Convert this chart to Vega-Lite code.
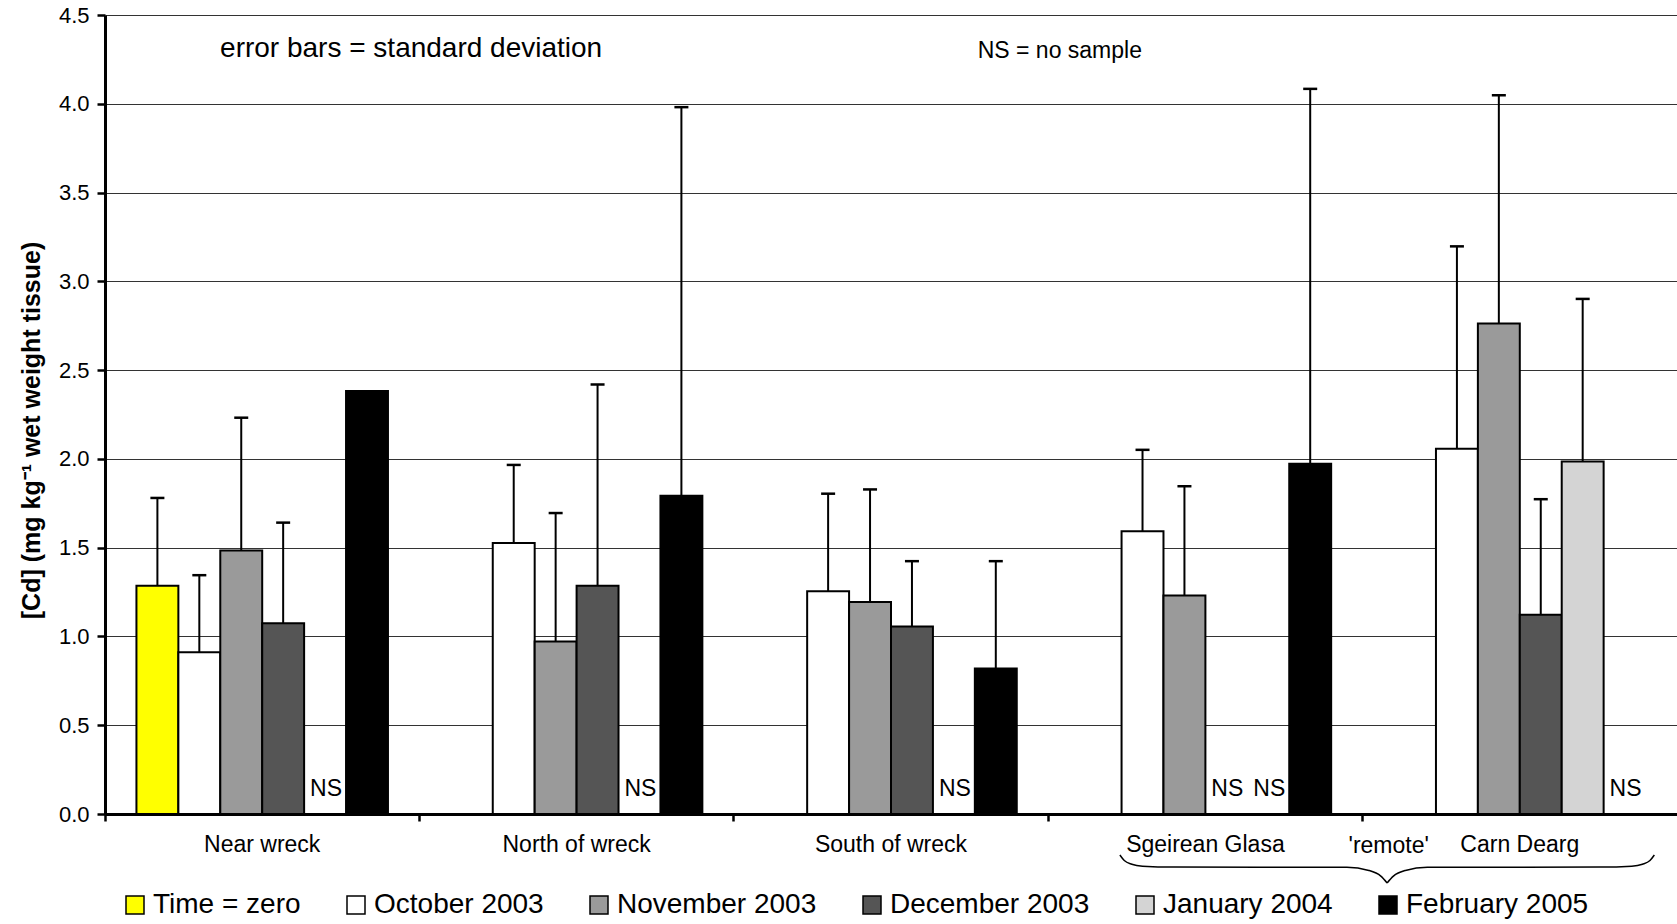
{
  "$schema": "https://vega.github.io/schema/vega-lite/v6.json",
  "width": 1572,
  "height": 799,
  "autosize": {"type": "none"},
  "padding": {"left": 105, "top": 15, "right": 0, "bottom": 110},
  "background": "white",
  "config": {"view": {"stroke": null}, "font": "Liberation Sans"},
  "resolve": {"scale": {"x": "independent"}, "axis": {"x": "independent", "y": "independent"}},
  "layer": [
    {
      "data": {"values": [
        {"site": "Near wreck", "period": "Time = zero", "value": 1.285, "upper": 1.78},
        {"site": "Near wreck", "period": "October 2003", "value": 0.911, "upper": 1.345},
        {"site": "Near wreck", "period": "November 2003", "value": 1.484, "upper": 2.232},
        {"site": "Near wreck", "period": "December 2003", "value": 1.074, "upper": 1.641},
        {"site": "Near wreck", "period": "January 2004", "value": null, "upper": null, "ns": true},
        {"site": "Near wreck", "period": "February 2005", "value": 2.383, "upper": null},
        {"site": "North of wreck", "period": "October 2003", "value": 1.526, "upper": 1.966},
        {"site": "North of wreck", "period": "November 2003", "value": 0.971, "upper": 1.695},
        {"site": "North of wreck", "period": "December 2003", "value": 1.285, "upper": 2.419},
        {"site": "North of wreck", "period": "January 2004", "value": null, "upper": null, "ns": true},
        {"site": "North of wreck", "period": "February 2005", "value": 1.792, "upper": 3.981},
        {"site": "South of wreck", "period": "October 2003", "value": 1.255, "upper": 1.804},
        {"site": "South of wreck", "period": "November 2003", "value": 1.194, "upper": 1.828},
        {"site": "South of wreck", "period": "December 2003", "value": 1.056, "upper": 1.424},
        {"site": "South of wreck", "period": "January 2004", "value": null, "upper": null, "ns": true},
        {"site": "South of wreck", "period": "February 2005", "value": 0.82, "upper": 1.424},
        {"site": "Sgeirean Glasa", "period": "October 2003", "value": 1.592, "upper": 2.051},
        {"site": "Sgeirean Glasa", "period": "November 2003", "value": 1.231, "upper": 1.846},
        {"site": "Sgeirean Glasa", "period": "December 2003", "value": null, "upper": null, "ns": true},
        {"site": "Sgeirean Glasa", "period": "January 2004", "value": null, "upper": null, "ns": true},
        {"site": "Sgeirean Glasa", "period": "February 2005", "value": 1.972, "upper": 4.084},
        {"site": "Carn Dearg", "period": "October 2003", "value": 2.057, "upper": 3.197},
        {"site": "Carn Dearg", "period": "November 2003", "value": 2.763, "upper": 4.048},
        {"site": "Carn Dearg", "period": "December 2003", "value": 1.122, "upper": 1.773},
        {"site": "Carn Dearg", "period": "January 2004", "value": 1.985, "upper": 2.901},
        {"site": "Carn Dearg", "period": "February 2005", "value": null, "upper": null, "ns": true}
      ]},
      "encoding": {
        "x": {
          "field": "site", "type": "nominal",
          "scale": {"domain": ["Near wreck", "North of wreck", "South of wreck", "Sgeirean Glasa", "Carn Dearg"], "paddingInner": 0, "paddingOuter": 0},
          "axis": {"title": null, "bandPosition": 0, "labelAngle": 0, "domainColor": "black", "domainWidth": 3, "tickColor": "black", "tickWidth": 2.5, "tickSize": 7, "labelFontSize": 23, "labelColor": "black", "labelPadding": 12, "labelFont": "Liberation Sans", "grid": false}
        },
        "xOffset": {
          "field": "period", "type": "nominal",
          "scale": {"domain": ["Time = zero", "October 2003", "November 2003", "December 2003", "January 2004", "February 2005"], "paddingInner": 0, "paddingOuter": 0.75}
        }
      },
      "layer": [
        {
          "transform": [{"filter": "datum.value != null"}],
          "mark": {"type": "bar", "stroke": "black", "strokeWidth": 2},
          "encoding": {
            "y": {
              "field": "value", "type": "quantitative",
              "scale": {"domain": [0, 4.5], "nice": false, "zero": true},
              "axis": {"title": "[Cd] (mg kg⁻¹ wet weight tissue)", "values": [0, 0.5, 1, 1.5, 2, 2.5, 3, 3.5, 4, 4.5], "format": ".1f", "grid": true, "gridColor": "#333", "gridWidth": 1, "domainColor": "black", "domainWidth": 3, "tickColor": "black", "tickWidth": 2.5, "tickSize": 8, "labelFontSize": 22, "labelColor": "black", "labelPadding": 8, "labelFont": "Liberation Sans", "titleFontSize": 25, "titleFontWeight": "bold", "titleColor": "black", "titleFont": "Liberation Sans", "titlePadding": 14, "titleY": 415}
            },
            "color": {
              "field": "period", "type": "nominal",
              "scale": {"domain": ["Time = zero", "October 2003", "November 2003", "December 2003", "January 2004", "February 2005"], "range": ["#ffff00", "#ffffff", "#9a9a9a", "#555555", "#d4d4d4", "#000000"]},
              "legend": {"orient": "none", "legendX": 16, "legendY": 876, "direction": "horizontal", "title": null, "symbolType": "square", "symbolSize": 324, "symbolStrokeColor": "black", "symbolStrokeWidth": 1.5, "symbolOpacity": 1, "labelFontSize": 28, "labelFont": "Liberation Sans", "labelColor": "black", "columnPadding": 41, "labelOffset": 4, "padding": 0, "labelLimit": 400}
            }
          }
        },
        {
          "transform": [{"filter": "datum.upper != null"}],
          "mark": {"type": "rule", "color": "black", "strokeWidth": 2},
          "encoding": {
            "y": {"field": "value", "type": "quantitative", "scale": {"domain": [0, 4.5]}},
            "y2": {"field": "upper"}
          }
        },
        {
          "transform": [{"filter": "datum.upper != null"}],
          "mark": {"type": "tick", "color": "black", "opacity": 1, "thickness": 2.5, "size": 14, "orient": "horizontal"},
          "encoding": {
            "y": {"field": "upper", "type": "quantitative", "scale": {"domain": [0, 4.5]}}
          }
        },
        {
          "transform": [{"filter": "datum.ns == true"}],
          "mark": {"type": "text", "align": "left", "baseline": "alphabetic", "dx": -15, "dy": -18, "fontSize": 23, "color": "black", "font": "Liberation Sans"},
          "encoding": {
            "y": {"datum": 0, "type": "quantitative", "scale": {"domain": [0, 4.5]}},
            "text": {"value": "NS"}
          }
        }
      ]
    },
    {
      "layer": [
        {
          "data": {"values": [
            {"half": "L", "bx": 3.228, "by": -0.231},
            {"half": "L", "bx": 3.242, "by": -0.262},
            {"half": "L", "bx": 3.266, "by": -0.283},
            {"half": "L", "bx": 3.30, "by": -0.294},
            {"half": "L", "bx": 3.40, "by": -0.299},
            {"half": "L", "bx": 3.95, "by": -0.30},
            {"half": "L", "bx": 4.02, "by": -0.318},
            {"half": "L", "bx": 4.058, "by": -0.35},
            {"half": "L", "bx": 4.078, "by": -0.388},
            {"half": "R", "bx": 4.078, "by": -0.388},
            {"half": "R", "bx": 4.098, "by": -0.35},
            {"half": "R", "bx": 4.136, "by": -0.318},
            {"half": "R", "bx": 4.206, "by": -0.30},
            {"half": "R", "bx": 4.756, "by": -0.299},
            {"half": "R", "bx": 4.856, "by": -0.294},
            {"half": "R", "bx": 4.890, "by": -0.283},
            {"half": "R", "bx": 4.914, "by": -0.262},
            {"half": "R", "bx": 4.928, "by": -0.231}
          ]},
          "mark": {"type": "line", "interpolate": "monotone", "color": "black", "strokeWidth": 1.5, "clip": false},
          "encoding": {
            "x": {"field": "bx", "type": "quantitative", "scale": {"domain": [0, 5], "nice": false, "zero": false}, "axis": null},
            "y": {"field": "by", "type": "quantitative", "scale": {"domain": [0, 4.5], "nice": false}, "axis": null},
            "detail": {"field": "half"}
          }
        },
        {
          "data": {"values": [{}]},
          "mark": {"type": "text", "align": "center", "baseline": "middle", "fontSize": 23, "color": "black", "font": "Liberation Sans"},
          "encoding": {
            "x": {"datum": 4.083, "type": "quantitative", "scale": {"domain": [0, 5], "nice": false, "zero": false}, "axis": null},
            "y": {"datum": -0.18, "type": "quantitative", "scale": {"domain": [0, 4.5], "nice": false}, "axis": null},
            "text": {"value": "'remote'"}
          }
        },
        {
          "data": {"values": [{}]},
          "mark": {"type": "text", "align": "left", "baseline": "middle", "fontSize": 28, "color": "black", "font": "Liberation Sans"},
          "encoding": {
            "x": {"datum": 0.366, "type": "quantitative", "scale": {"domain": [0, 5], "nice": false, "zero": false}, "axis": null},
            "y": {"datum": 4.31, "type": "quantitative", "scale": {"domain": [0, 4.5], "nice": false}, "axis": null},
            "text": {"value": "error bars = standard deviation"}
          }
        },
        {
          "data": {"values": [{}]},
          "mark": {"type": "text", "align": "center", "baseline": "middle", "fontSize": 23, "color": "black", "font": "Liberation Sans"},
          "encoding": {
            "x": {"datum": 3.037, "type": "quantitative", "scale": {"domain": [0, 5], "nice": false, "zero": false}, "axis": null},
            "y": {"datum": 4.30, "type": "quantitative", "scale": {"domain": [0, 4.5], "nice": false}, "axis": null},
            "text": {"value": "NS = no sample"}
          }
        }
      ]
    }
  ]
}
